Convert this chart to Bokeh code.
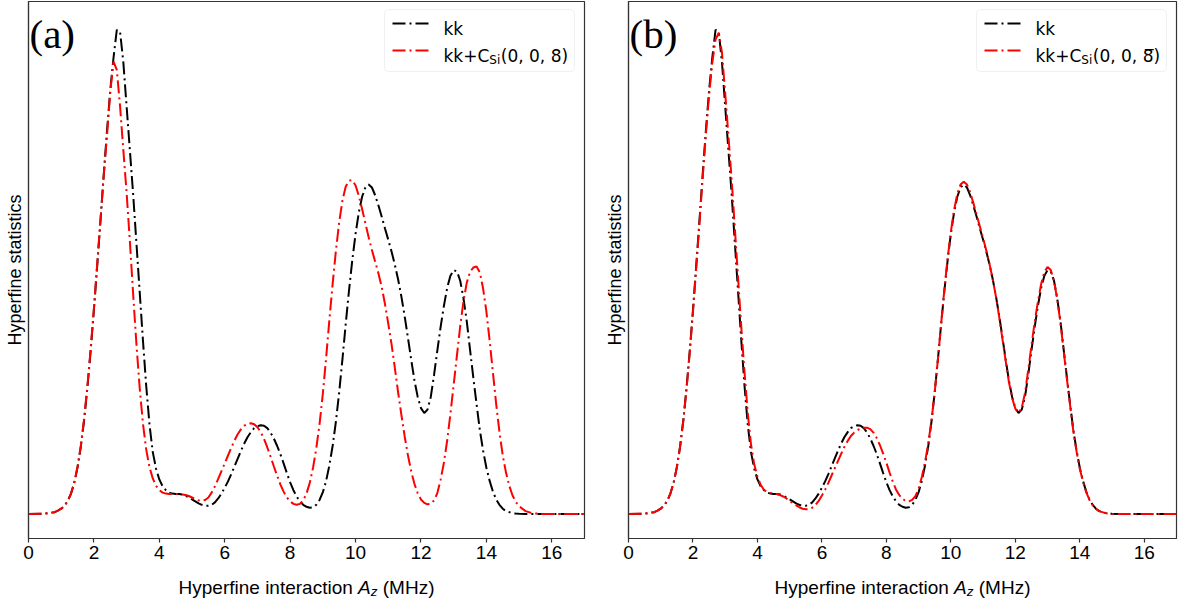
from bokeh.plotting import figure
from bokeh.layouts import row, column
from bokeh.models import Range1d, Label, BoxAnnotation, Arrow, FixedTicker
from bokeh.embed import file_html
from bokeh.resources import INLINE

# ---------------- data ----------------
# shared sampling grid of the hyperfine interaction A_z (MHz)
A_z = ([0.0, 0.5] + [round(0.8 + 0.1 * i, 1) for i in range(143)]
       + [15.2, 15.4, 15.7, 17.0])

# kk  (same curve in panels a and b)
kk = [0.0, 0.001,
      .004, .007, .011, .017, .027, .042, .064, .096, .138, .192,
      .258, .334, .418, .508, .600, .695, .785, .868, .935, .992,
      .988, .925, .835, .745, .655, .555, .455, .355, .262, .183,
      .127, .093, .071, .057, .049, .044, .042, .041, .041, .040,
      .038, .034, .030, .026, .022, .019, .017, .017, .019, .024,
      .032, .042, .054, .067, .082, .098, .114, .130, .145, .158,
      .168, .176, .180, .182, .181, .176, .167, .155, .140, .123,
      .104, .084, .065, .049, .036, .026, .019, .015, .013, .014,
      .019, .029, .045, .068, .100, .140, .190, .250, .318, .390,
      .458, .520, .574, .618, .650, .669, .675, .669, .653, .632,
      .609, .585, .562, .538, .511, .481, .446, .406, .362, .317,
      .274, .240, .217, .207, .214, .240, .285, .335, .383, .426,
      .463, .488, .500, .497, .478, .442, .395, .337, .280, .225,
      .172, .130, .095, .068, .046, .030, .019, .011, .006, .004,
      .002, .001, .0005,
      0.0, 0.0, 0.0, 0.0]

# kk + C_Si(0,0,8)  (panel a)
kk_csi_8 = [0.0, 0.001,
            .004, .007, .011, .017, .027, .042, .065, .097, .140, .195,
            .262, .338, .422, .512, .602, .693, .775, .865, .927, .910,
            .835, .745, .658, .558, .450, .348, .258, .185, .132, .096,
            .073, .058, .049, .044, .042, .041, .041, .041, .041, .040,
            .039, .037, .034, .031, .028, .027, .029, .034, .044, .057,
            .072, .088, .104, .120, .136, .151, .164, .174, .181, .185,
            .186, .184, .178, .168, .154, .137, .118, .098, .079, .061,
            .046, .034, .026, .021, .019, .021, .028, .042, .064, .095,
            .135, .185, .247, .320, .398, .472, .540, .598, .643, .671,
            .683, .684, .673, .652, .625, .596, .567, .541, .517, .493,
            .465, .430, .390, .348, .300, .250, .204, .160, .121, .088,
            .062, .043, .030, .023, .020, .021, .028, .043, .070, .105,
            .150, .205, .265, .325, .385, .436, .474, .496, .505, .507,
            .495, .462, .415, .355, .290, .225, .168, .120, .085, .058,
            .038, .025, .016,
            .006, .002, 0.0, 0.0]

# kk + C_Si(0,0,8bar)  (panel b)
kk_csi_8bar = [0.0, 0.001,
               .004, .007, .011, .017, .027, .042, .064, .096, .138, .191,
               .256, .331, .414, .503, .594, .688, .778, .858, .925, .972,
               .986, .945, .862, .775, .685, .585, .483, .382, .290, .207,
               .143, .102, .077, .060, .050, .045, .043, .042, .041, .039,
               .036, .032, .027, .022, .018, .014, .011, .010, .010, .013,
               .019, .027, .038, .050, .064, .079, .094, .109, .124, .138,
               .150, .160, .167, .172, .175, .177, .177, .174, .167, .156,
               .141, .124, .105, .085, .066, .050, .039, .031, .027, .026,
               .029, .037, .052, .076, .107, .145, .192, .250, .318, .391,
               .461, .524, .578, .623, .656, .675, .681, .675, .659, .637,
               .613, .589, .565, .540, .512, .481, .445, .404, .359, .314,
               .271, .238, .216, .208, .218, .248, .295, .345, .393, .435,
               .471, .496, .506, .500, .478, .440, .392, .334, .277, .222,
               .170, .128, .093, .066, .045, .029, .018, .011, .006, .004,
               .002, .001, .0005,
               0.0, 0.0, 0.0, 0.0]

x_ticks = [0, 2, 4, 6, 8, 10, 12, 14, 16]
panel_tags = ["(a)", "(b)"]
legend_black = "kk"
legend_red_main = "kk+C"
legend_red_sub = "Si"
legend_red_tail = ["(0, 0, 8)", "(0, 0, 8\u0305)"]
y_label = "Hyperfine statistics"
x_label_parts = ["Hyperfine interaction", "A", "z", "(MHz)"]

assert len(A_z) == len(kk) == len(kk_csi_8) == len(kk_csi_8bar)

# ---------------- layout constants ----------------
X_MAX = 17.0
Y_LO, Y_HI = -0.05, 1.05
FRAME_H = 537
AX_COL = "#333333"
SANS = "Liberation Sans"
LEG_FONT = "DejaVu Sans"
DASH = "13 4 2 4"


def make_panel(idx, y_red, frame_w, border_left, border_right):
    p = figure(frame_width=frame_w, frame_height=FRAME_H,
               x_range=Range1d(0, X_MAX), y_range=Range1d(Y_LO, Y_HI),
               output_backend="svg", toolbar_location=None,
               min_border_left=border_left, min_border_right=border_right,
               min_border_top=1, min_border_bottom=30)
    p.grid.visible = False
    p.background_fill_color = "white"
    p.border_fill_color = "white"
    p.outline_line_color = AX_COL
    p.outline_line_width = 1.2

    # x axis
    p.xaxis.ticker = FixedTicker(ticks=x_ticks)
    p.xaxis.minor_tick_line_color = None
    p.xaxis.major_tick_out = 4
    p.xaxis.major_tick_in = 0
    p.xaxis.major_tick_line_color = AX_COL
    p.xaxis.major_tick_line_width = 1.2
    p.xaxis.axis_line_color = AX_COL
    p.xaxis.axis_line_width = 1.2
    p.xaxis.major_label_text_font = SANS
    p.xaxis.major_label_text_font_size = "19px"
    p.xaxis.major_label_text_color = "black"
    p.xaxis.major_label_standoff = 3

    # y axis: no ticks, only the label
    p.yaxis.ticker = FixedTicker(ticks=[])
    p.yaxis.minor_tick_line_color = None
    p.yaxis.major_tick_out = 0
    p.yaxis.major_tick_in = 0
    p.yaxis.major_label_text_font_size = "0px"
    p.yaxis.axis_line_color = AX_COL
    p.yaxis.axis_line_width = 1.2
    p.yaxis.axis_label = y_label
    p.yaxis.axis_label_text_font = SANS
    p.yaxis.axis_label_text_font_size = "18px"
    p.yaxis.axis_label_text_font_style = "normal"
    p.yaxis.axis_label_text_color = "black"
    p.yaxis.axis_label_standoff = 4

    # curves
    p.line(A_z, kk, line_color="black", line_width=2, line_dash=DASH)
    p.line(A_z, y_red, line_color="#ff0000", line_width=2, line_dash=DASH)

    # pixel -> data helpers (for annotation placement)
    ppx = frame_w / X_MAX
    ppy = FRAME_H / (Y_HI - Y_LO)

    def from_right(d):
        return X_MAX - d / ppx

    def from_top(d):
        return Y_HI - d / ppy

    # panel tag
    p.add_layout(Label(x=0, y=Y_HI, x_offset=1, y_offset=-32, text=panel_tags[idx],
                       text_font="Liberation Serif", text_font_size="41px",
                       text_color="black", text_baseline="alphabetic", text_align="left"))

    # legend
    p.add_layout(BoxAnnotation(left=from_right(200), right=from_right(10),
                               top=from_top(8), bottom=from_top(70),
                               fill_color="white", fill_alpha=0.8,
                               line_color="#cccccc", line_width=1, border_radius=4))
    for yy, col in ((22, "black"), (49, "#ff0000")):
        p.add_layout(Arrow(end=None, x_start=from_right(192), x_end=from_right(155),
                           y_start=from_top(yy), y_end=from_top(yy),
                           line_color=col, line_width=2, line_dash=DASH))
    fs = 17
    sub_fs = 12
    tx = -141
    p.add_layout(Label(x=X_MAX, y=Y_HI, x_offset=tx, y_offset=-(22 + 5), text=legend_black,
                       text_font=LEG_FONT, text_font_size=f"{fs}px", text_color="black",
                       text_baseline="alphabetic", text_align="left"))
    p.add_layout(Label(x=X_MAX, y=Y_HI, x_offset=tx, y_offset=-(49 + 5), text=legend_red_main,
                       text_font=LEG_FONT, text_font_size=f"{fs}px", text_color="black",
                       text_baseline="alphabetic", text_align="left"))
    w_main = 2.694 * fs
    p.add_layout(Label(x=X_MAX, y=Y_HI, x_offset=tx + w_main, y_offset=-(49 + 5 + 4),
                       text=legend_red_sub, text_font=LEG_FONT, text_font_size=f"{sub_fs}px",
                       text_color="black", text_baseline="alphabetic", text_align="left"))
    p.add_layout(Label(x=X_MAX, y=Y_HI, x_offset=tx + w_main + 0.913 * sub_fs + 0.5,
                       y_offset=-(49 + 5), text=legend_red_tail[idx], text_font=LEG_FONT,
                       text_font_size=f"{fs}px", text_color="black",
                       text_baseline="alphabetic", text_align="left"))

    # thin text-only strip under the panel that carries the x-axis label
    lab = figure(frame_width=frame_w, frame_height=30, x_range=p.x_range,
                 y_range=Range1d(0, 1), output_backend="svg", toolbar_location=None,
                 x_axis_location=None, y_axis_location=None,
                 min_border_left=border_left, min_border_right=border_right,
                 min_border_top=0, min_border_bottom=0)
    lab.grid.visible = False
    lab.outline_line_color = None
    lab.background_fill_color = "white"
    lab.border_fill_color = "white"

    lf = 19
    w1 = 9.17 * lf
    sp = 0.278 * lf
    wA = 0.667 * lf
    zf = 13.5
    wz = 0.5 * zf
    total = w1 + sp + wA + wz + sp + 2.721 * lf
    x0 = -total / 2
    base = 11
    xc = X_MAX / 2
    lab.add_layout(Label(x=xc, y=0, x_offset=x0, y_offset=base, text=x_label_parts[0],
                         text_font=SANS, text_font_size=f"{lf}px", text_color="black",
                         text_baseline="alphabetic", text_align="left"))
    lab.add_layout(Label(x=xc, y=0, x_offset=x0 + w1 + sp, y_offset=base, text=x_label_parts[1],
                         text_font=SANS, text_font_size=f"{lf}px", text_font_style="italic",
                         text_color="black", text_baseline="alphabetic", text_align="left"))
    lab.add_layout(Label(x=xc, y=0, x_offset=x0 + w1 + sp + wA, y_offset=base - 4,
                         text=x_label_parts[2], text_font=SANS, text_font_size=f"{zf}px",
                         text_font_style="italic", text_color="black",
                         text_baseline="alphabetic", text_align="left"))
    lab.add_layout(Label(x=xc, y=0, x_offset=x0 + w1 + sp + wA + wz + sp, y_offset=base,
                         text=x_label_parts[3], text_font=SANS, text_font_size=f"{lf}px",
                         text_color="black", text_baseline="alphabetic", text_align="left"))
    return column(p, lab)


pa = make_panel(0, kk_csi_8, frame_w=556, border_left=28, border_right=8)
pb = make_panel(1, kk_csi_8bar, frame_w=548, border_left=36, border_right=2)

layout = row(pa, pb)
open("out.html", "w").write(file_html(layout, INLINE))
